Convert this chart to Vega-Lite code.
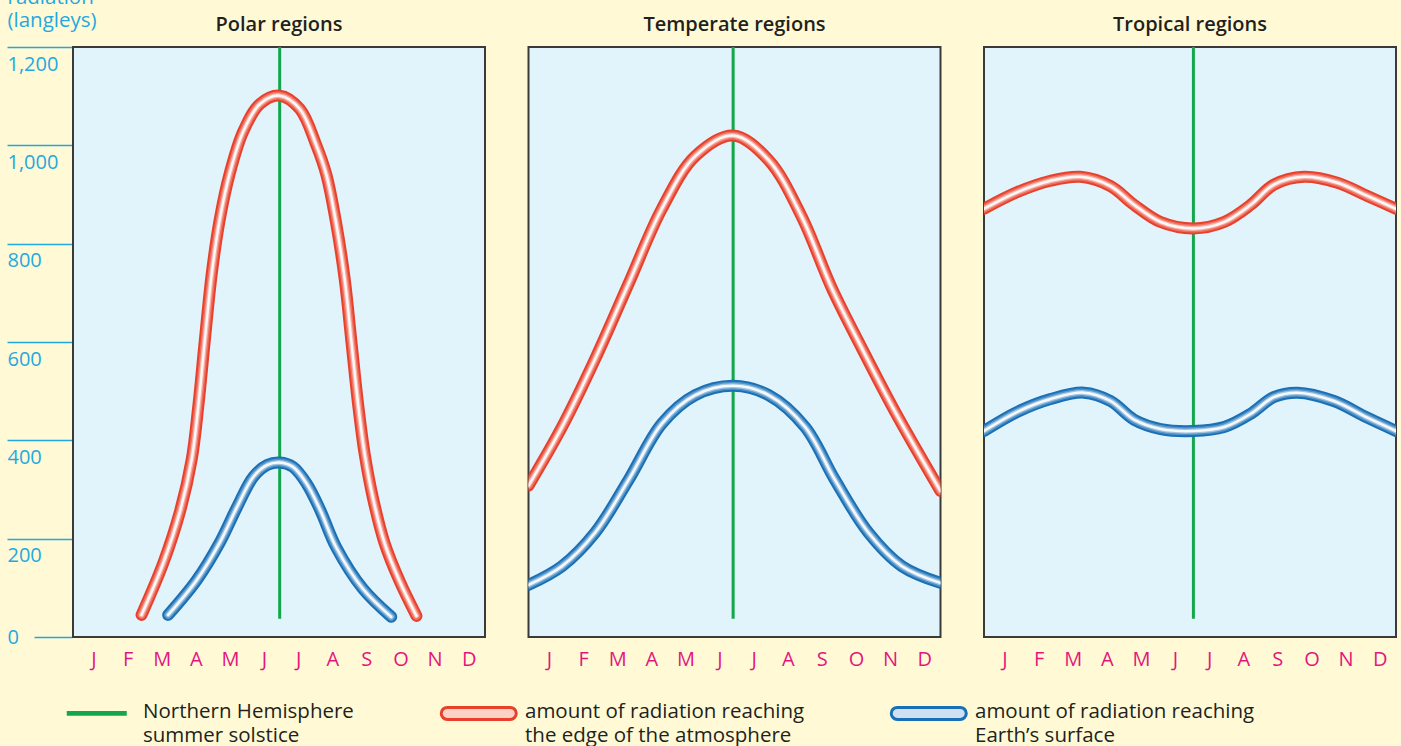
{
  "$schema": "https://vega.github.io/schema/vega-lite/v6.json",
  "background": "#fffad5",
  "padding": {"left": 6, "top": -13, "right": 5, "bottom": 0},
  "config": {
    "font": "Open Sans",
    "view": {"stroke": "#3a3a3a", "strokeWidth": 2, "fill": "#e1f3fb"},
    "header": {"labelFont": "Open Sans"}
  },
  "data": {
    "values": [
      {"region": "Polar regions", "series": "solstice", "m": 5.46, "v": 37, "v2": 1200},
      {"region": "Temperate regions", "series": "solstice", "m": 5.40, "v": 37, "v2": 1200},
      {"region": "Tropical regions", "series": "solstice", "m": 5.54, "v": 37, "v2": 1200},

      {"region": "Polar regions", "series": "edge", "m": 1.41, "v": 45},
      {"region": "Polar regions", "series": "edge", "m": 2.05, "v": 151},
      {"region": "Polar regions", "series": "edge", "m": 2.54, "v": 256},
      {"region": "Polar regions", "series": "edge", "m": 2.88, "v": 361},
      {"region": "Polar regions", "series": "edge", "m": 3.07, "v": 467},
      {"region": "Polar regions", "series": "edge", "m": 3.27, "v": 607},
      {"region": "Polar regions", "series": "edge", "m": 3.47, "v": 740},
      {"region": "Polar regions", "series": "edge", "m": 3.71, "v": 852},
      {"region": "Polar regions", "series": "edge", "m": 4.00, "v": 944},
      {"region": "Polar regions", "series": "edge", "m": 4.39, "v": 1028},
      {"region": "Polar regions", "series": "edge", "m": 4.88, "v": 1084},
      {"region": "Polar regions", "series": "edge", "m": 5.46, "v": 1101},
      {"region": "Polar regions", "series": "edge", "m": 6.05, "v": 1074},
      {"region": "Polar regions", "series": "edge", "m": 6.53, "v": 1001},
      {"region": "Polar regions", "series": "edge", "m": 6.83, "v": 940},
      {"region": "Polar regions", "series": "edge", "m": 7.12, "v": 840},
      {"region": "Polar regions", "series": "edge", "m": 7.37, "v": 726},
      {"region": "Polar regions", "series": "edge", "m": 7.56, "v": 603},
      {"region": "Polar regions", "series": "edge", "m": 7.76, "v": 473},
      {"region": "Polar regions", "series": "edge", "m": 7.95, "v": 373},
      {"region": "Polar regions", "series": "edge", "m": 8.20, "v": 281},
      {"region": "Polar regions", "series": "edge", "m": 8.54, "v": 190},
      {"region": "Polar regions", "series": "edge", "m": 8.98, "v": 113},
      {"region": "Polar regions", "series": "edge", "m": 9.47, "v": 43},

      {"region": "Polar regions", "series": "surface", "m": 2.19, "v": 45},
      {"region": "Polar regions", "series": "surface", "m": 3.03, "v": 116},
      {"region": "Polar regions", "series": "surface", "m": 3.71, "v": 193},
      {"region": "Polar regions", "series": "surface", "m": 4.20, "v": 263},
      {"region": "Polar regions", "series": "surface", "m": 4.69, "v": 326},
      {"region": "Polar regions", "series": "surface", "m": 5.10, "v": 350},
      {"region": "Polar regions", "series": "surface", "m": 5.46, "v": 355},
      {"region": "Polar regions", "series": "surface", "m": 5.85, "v": 346},
      {"region": "Polar regions", "series": "surface", "m": 6.25, "v": 312},
      {"region": "Polar regions", "series": "surface", "m": 6.65, "v": 258},
      {"region": "Polar regions", "series": "surface", "m": 7.12, "v": 182},
      {"region": "Polar regions", "series": "surface", "m": 7.90, "v": 98},
      {"region": "Polar regions", "series": "surface", "m": 8.73, "v": 41},

      {"region": "Temperate regions", "series": "edge", "m": -0.6, "v": 308},
      {"region": "Temperate regions", "series": "edge", "m": 0.38, "v": 427},
      {"region": "Temperate regions", "series": "edge", "m": 1.35, "v": 565},
      {"region": "Temperate regions", "series": "edge", "m": 2.33, "v": 718},
      {"region": "Temperate regions", "series": "edge", "m": 3.31, "v": 871},
      {"region": "Temperate regions", "series": "edge", "m": 4.29, "v": 978},
      {"region": "Temperate regions", "series": "edge", "m": 5.40, "v": 1020},
      {"region": "Temperate regions", "series": "edge", "m": 6.44, "v": 970},
      {"region": "Temperate regions", "series": "edge", "m": 7.41, "v": 855},
      {"region": "Temperate regions", "series": "edge", "m": 8.29, "v": 710},
      {"region": "Temperate regions", "series": "edge", "m": 9.17, "v": 588},
      {"region": "Temperate regions", "series": "edge", "m": 10.15, "v": 458},
      {"region": "Temperate regions", "series": "edge", "m": 11.48, "v": 297},

      {"region": "Temperate regions", "series": "surface", "m": -0.6, "v": 106},
      {"region": "Temperate regions", "series": "surface", "m": 0.38, "v": 144},
      {"region": "Temperate regions", "series": "surface", "m": 1.35, "v": 212},
      {"region": "Temperate regions", "series": "surface", "m": 2.33, "v": 319},
      {"region": "Temperate regions", "series": "surface", "m": 3.31, "v": 434},
      {"region": "Temperate regions", "series": "surface", "m": 4.29, "v": 492},
      {"region": "Temperate regions", "series": "surface", "m": 5.40, "v": 511},
      {"region": "Temperate regions", "series": "surface", "m": 6.44, "v": 492},
      {"region": "Temperate regions", "series": "surface", "m": 7.51, "v": 427},
      {"region": "Temperate regions", "series": "surface", "m": 8.39, "v": 319},
      {"region": "Temperate regions", "series": "surface", "m": 9.37, "v": 212},
      {"region": "Temperate regions", "series": "surface", "m": 10.35, "v": 144},
      {"region": "Temperate regions", "series": "surface", "m": 11.48, "v": 110},

      {"region": "Tropical regions", "series": "edge", "m": -0.6, "v": 871},
      {"region": "Tropical regions", "series": "edge", "m": 0.38, "v": 905},
      {"region": "Tropical regions", "series": "edge", "m": 1.35, "v": 928},
      {"region": "Tropical regions", "series": "edge", "m": 2.23, "v": 936},
      {"region": "Tropical regions", "series": "edge", "m": 3.11, "v": 917},
      {"region": "Tropical regions", "series": "edge", "m": 3.80, "v": 879},
      {"region": "Tropical regions", "series": "edge", "m": 4.58, "v": 844},
      {"region": "Tropical regions", "series": "edge", "m": 5.54, "v": 831},
      {"region": "Tropical regions", "series": "edge", "m": 6.44, "v": 844},
      {"region": "Tropical regions", "series": "edge", "m": 7.22, "v": 879},
      {"region": "Tropical regions", "series": "edge", "m": 7.90, "v": 920},
      {"region": "Tropical regions", "series": "edge", "m": 8.78, "v": 936},
      {"region": "Tropical regions", "series": "edge", "m": 9.76, "v": 924},
      {"region": "Tropical regions", "series": "edge", "m": 10.64, "v": 897},
      {"region": "Tropical regions", "series": "edge", "m": 11.48, "v": 871},

      {"region": "Tropical regions", "series": "surface", "m": -0.6, "v": 419},
      {"region": "Tropical regions", "series": "surface", "m": 0.38, "v": 458},
      {"region": "Tropical regions", "series": "surface", "m": 1.35, "v": 484},
      {"region": "Tropical regions", "series": "surface", "m": 2.33, "v": 497},
      {"region": "Tropical regions", "series": "surface", "m": 3.11, "v": 480},
      {"region": "Tropical regions", "series": "surface", "m": 3.80, "v": 442},
      {"region": "Tropical regions", "series": "surface", "m": 4.58, "v": 423},
      {"region": "Tropical regions", "series": "surface", "m": 5.54, "v": 419},
      {"region": "Tropical regions", "series": "surface", "m": 6.44, "v": 427},
      {"region": "Tropical regions", "series": "surface", "m": 7.22, "v": 454},
      {"region": "Tropical regions", "series": "surface", "m": 7.90, "v": 488},
      {"region": "Tropical regions", "series": "surface", "m": 8.59, "v": 497},
      {"region": "Tropical regions", "series": "surface", "m": 9.66, "v": 480},
      {"region": "Tropical regions", "series": "surface", "m": 10.64, "v": 446},
      {"region": "Tropical regions", "series": "surface", "m": 11.48, "v": 419}
    ]
  },
  "spacing": 41.5,
  "facet": {
    "column": {
      "field": "region",
      "type": "nominal",
      "sort": ["Polar regions", "Temperate regions", "Tropical regions"],
      "header": {
        "title": null,
        "labelFontSize": 20,
        "labelFontWeight": 600,
        "labelColor": "#231f20",
        "labelBaseline": "alphabetic",
        "labelPadding": -7
      }
    }
  },
  "spec": {
    "width": 412,
    "height": 590,
    "encoding": {
      "x": {
        "field": "m",
        "type": "quantitative",
        "scale": {"domain": [-0.6, 11.48], "nice": false, "zero": false},
        "axis": {
          "title": null,
          "values": [0, 1, 2, 3, 4, 5, 6, 7, 8, 9, 10, 11],
          "labelExpr": "['J','F','M','A','M','J','J','A','S','O','N','D'][datum.value]",
          "domain": false,
          "ticks": false,
          "grid": false,
          "labelColor": "#e5157f",
          "labelFontSize": 20,
          "labelPadding": 11,
          "labelFlush": false
        }
      },
      "y": {
        "field": "v",
        "type": "quantitative",
        "scale": {"domain": [0, 1200], "nice": false},
        "axis": {
          "title": ["radiation", "(langleys)"],
          "titleAngle": 0,
          "titleAlign": "left",
          "titleBaseline": "bottom",
          "titleX": -65,
          "titleY": -40,
          "titleColor": "#1fa9e1",
          "titleFontSize": 20.5,
          "titleFontWeight": "normal",
          "titleLineHeight": 23,
          "values": [0, 200, 400, 600, 800, 1000, 1200],
          "format": ",d",
          "domain": false,
          "grid": false,
          "tickColor": "#1fa9e1",
          "tickWidth": 1.5,
          "tickSize": {"condition": {"test": "datum.value == 0", "value": 38}, "value": 65},
          "labelColor": "#1fa9e1",
          "labelFontSize": 20,
          "labelAlign": "left",
          "labelPadding": {"condition": {"test": "datum.value == 0", "value": 27}, "value": 0},
          "labelBaseline": {"condition": {"test": "datum.value == 0", "value": "middle"}, "value": "top"},
          "labelOffset": {"condition": {"test": "datum.value == 0", "value": 0}, "value": 7},
          "labelFlush": false,
          "labelOverlap": false
        }
      }
    },
    "layer": [
      {
        "transform": [{"filter": "datum.series == 'solstice'"}],
        "mark": {"type": "rule", "strokeWidth": 3},
        "encoding": {
          "y2": {"field": "v2"},
          "color": {
            "field": "series",
            "type": "nominal",
            "scale": {"domain": ["solstice", "edge", "surface"], "range": ["#14a64b", "#e8402b", "#1a70b6"]},
            "legend": {
              "title": null,
              "orient": "none",
              "direction": "horizontal",
              "legendX": 13.5,
              "legendY": 656,
              "columns": 3,
              "columnPadding": 80,
              "padding": 0,
              "symbolSize": 5625,
              "symbolType": "M-0.84,-0.16 L0.84,-0.16 A0.16,0.16 0 0 1 0.84,0.16 L-0.84,0.16 A0.16,0.16 0 0 1 -0.84,-0.16 Z",
              "symbolStrokeWidth": 3,
              "labelFontSize": 20.5,
              "labelColor": "#231f20",
              "labelLimit": 500,
              "labelOffset": 36,
              "labelBaseline": "top",
              "labelExpr": "datum.value == 'solstice' ? ['Northern Hemisphere', 'summer solstice'] : datum.value == 'edge' ? ['amount of radiation reaching', 'the edge of the atmosphere'] : ['amount of radiation reaching', 'Earth’s surface']",
              "encode": {
                "symbols": {
                  "update": {
                    "shape": {"signal": "datum.value == 'solstice' ? 'M-0.8,-0.066 L0.8,-0.066 L0.8,0.066 L-0.8,0.066 Z' : 'M-0.84,-0.16 L0.84,-0.16 A0.16,0.16 0 0 1 0.84,0.16 L-0.84,0.16 A0.16,0.16 0 0 1 -0.84,-0.16 Z'"},
                    "fill": {"signal": "datum.value == 'solstice' ? '#14a64b' : datum.value == 'edge' ? '#fcd2c4' : '#cfe0f2'"},
                    "strokeWidth": {"signal": "datum.value == 'solstice' ? 0 : 3"}
                  }
                },
                "labels": {
                  "update": {
                    "dy": {"value": -11},
                    "lineHeight": {"value": 24}
                  }
                }
              }
            }
          }
        }
      },
      {
        "transform": [{"filter": "datum.series != 'solstice'"}],
        "mark": {"type": "line", "interpolate": "catmull-rom", "strokeWidth": 12, "strokeCap": "round", "clip": true},
        "encoding": {"color": {"field": "series", "type": "nominal"}}
      },
      {
        "transform": [{"filter": "datum.series != 'solstice'"}],
        "mark": {"type": "line", "interpolate": "catmull-rom", "strokeWidth": 8, "strokeCap": "round", "clip": true, "color": "white", "opacity": 0.25},
        "encoding": {"detail": {"field": "series", "type": "nominal"}}
      },
      {
        "transform": [{"filter": "datum.series != 'solstice'"}],
        "mark": {"type": "line", "interpolate": "catmull-rom", "strokeWidth": 5, "strokeCap": "round", "clip": true, "color": "white", "opacity": 0.45},
        "encoding": {"detail": {"field": "series", "type": "nominal"}}
      },
      {
        "transform": [{"filter": "datum.series != 'solstice'"}],
        "mark": {"type": "line", "interpolate": "catmull-rom", "strokeWidth": 2.5, "strokeCap": "round", "clip": true, "color": "white", "opacity": 0.9},
        "encoding": {"detail": {"field": "series", "type": "nominal"}}
      }
    ]
  }
}
